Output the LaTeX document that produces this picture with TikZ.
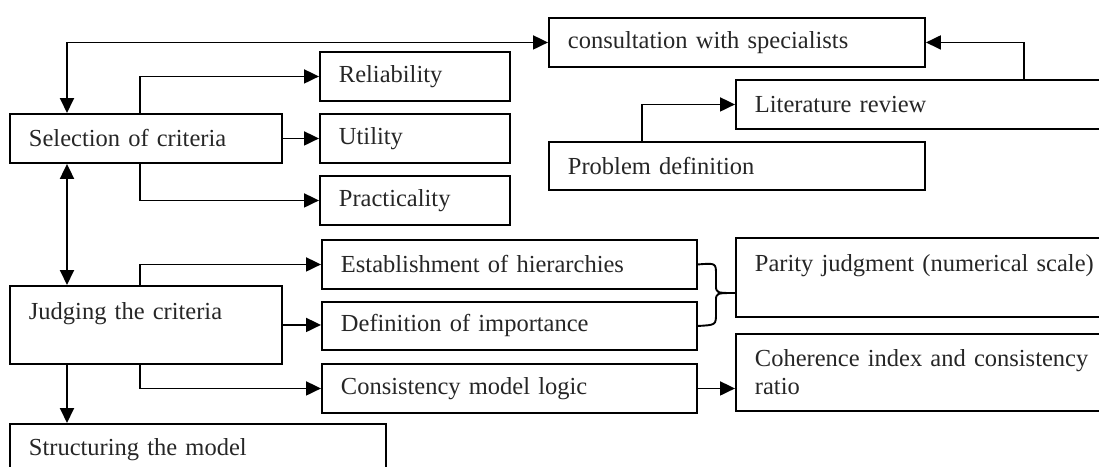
\documentclass[tikz,border=0pt]{standalone}
\usepackage{fontspec}
\setmainfont{Liberation Serif}
\usetikzlibrary{arrows.meta}

\begin{document}
\begin{tikzpicture}[x=1pt, y=-1pt, line width=1.9pt,
        box_style/.style={draw=black, rectangle, anchor=north west, inner xsep=19pt, inner ysep=0pt,
            minimum height=49pt, align=left, text=black!85, font=\fontsize{24.5}{28}\selectfont},
        edge_style/.style={draw=black, line width=1.9pt, -{Triangle[length=15pt,width=14pt]}},
        both_style/.style={draw=black, line width=1.9pt, {Triangle[length=15pt,width=14pt]}-{Triangle[length=15pt,width=14pt]}},
        brace_style/.style={draw=black, line width=1.9pt, -}]

        \useasboundingbox (0,0) rectangle (1099,466);

        \node [box_style, text width=338pt](cons) at (548,17) {consultation with specialists};
        \node [box_style, text width=342pt](lit) at (735,79) {Literature review};
        \node [box_style, text width=338pt, minimum height=48pt](prob) at (548,141) {Problem definition};
        \node [box_style, text width=152pt](rel) at (319,51) {Reliability};
        \node [box_style, text width=234pt](sel) at (9,113) {Selection of criteria};
        \node [box_style, text width=152pt](util) at (319,113) {Utility};
        \node [box_style, text width=152pt](prac) at (319,175) {Practicality};
        \node [box_style, text width=337pt](est) at (321,239) {Establishment of hierarchies};
        \node [box_style, text width=337pt, minimum height=48pt](def) at (321,301) {Definition of importance};
        \node [box_style, text width=337pt](cml) at (321,363) {Consistency model logic};
        \node [box_style, text width=234pt, minimum height=78pt](jud) at (9,285) {Judging the criteria\\~};
        \node [box_style, text width=342pt, minimum height=79pt](par) at (735,237) {Parity judgment (numerical scale)\\~};
        \node [box_style, text width=342pt, minimum height=77pt](coh) at (735,333) {Coherence index and consistency\\ratio};
        \node [box_style, text width=338pt, minimum height=52pt](str) at (9,423) {Structuring the model};
        \coordinate (brace_tip) at (735,293);

        \draw [both_style] ([xshift=58pt]sel.north west) |- (cons.west);
        \draw [edge_style] ([xshift=289pt]lit.north west) |- (cons.east);
        \draw [edge_style] ([xshift=94pt]prob.north west) |- (lit.west);
        \draw [edge_style] ([xshift=131pt]sel.north west) |- (rel.west);
        \draw [edge_style] (sel.east) -- (util.west);
        \draw [edge_style] ([xshift=131pt]sel.south west) |- (prac.west);
        \draw [both_style] ([xshift=58pt]sel.south west) -- ([xshift=58pt]jud.north west);
        \draw [edge_style] ([xshift=131pt]jud.north west) |- (est.west);
        \draw [edge_style] (jud.east) -- (jud.east -| def.west);
        \draw [edge_style] ([xshift=131pt]jud.south west) |- (cml.west);
        \draw [edge_style] ([xshift=58pt]jud.south west) -- ([xshift=58pt]str.north west);
        \draw [edge_style] (cml.east) -- (cml.east -| coh.west);
        \draw [brace_style] (est.east) .. controls (716,263) .. (716,275) -- (716,285) .. controls (716,293) .. (brace_tip);
        \draw [brace_style] (def.east) .. controls (716,325) .. (716,313) -- (716,301) .. controls (716,293) .. (brace_tip);
        \end{tikzpicture}
\end{document}
